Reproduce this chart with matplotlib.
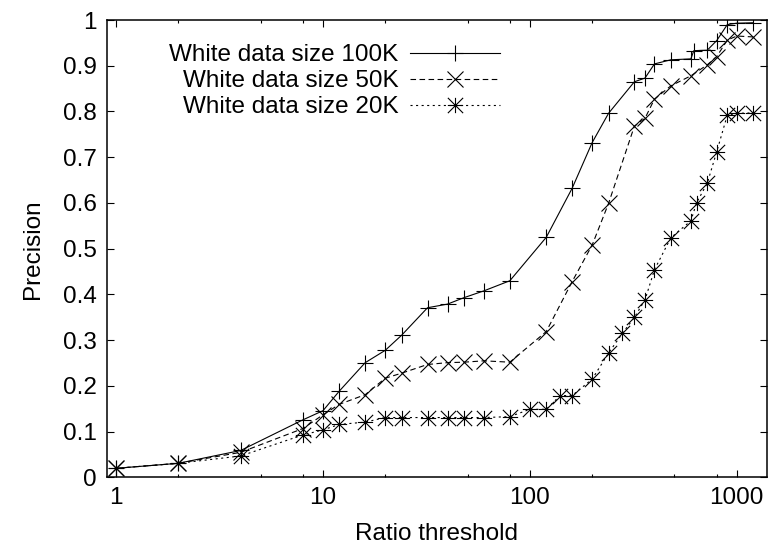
import matplotlib
matplotlib.use("Agg")
import matplotlib.pyplot as plt
from matplotlib.path import Path
from matplotlib.ticker import FixedLocator, FuncFormatter, NullFormatter

plt.rcParams['font.family'] = ['Liberation Sans', 'DejaVu Sans']
plt.rcParams['lines.scale_dashes'] = False

# Precision vs ratio threshold for three white-data sizes
x_100k = [1, 2, 4, 8, 10, 12, 16, 20, 24, 32, 40, 48, 60, 80, 120, 160, 200, 240,
          320, 360, 400, 480, 600, 620, 720, 800, 900, 1000, 1200]
p_100k = [0.020, 0.031, 0.059, 0.126, 0.146, 0.189, 0.251, 0.278, 0.311, 0.371,
          0.379, 0.393, 0.408, 0.430, 0.525, 0.632, 0.732, 0.796, 0.865, 0.873,
          0.904, 0.913, 0.915, 0.933, 0.934, 0.955, 0.990, 0.993, 0.994]

x_50k = [1, 2, 4, 8, 10, 12, 16, 20, 24, 32, 40, 48, 60, 80, 120, 160, 200, 240,
         320, 360, 400, 480, 600, 720, 800, 900, 1000, 1200]
p_50k = [0.020, 0.031, 0.055, 0.107, 0.137, 0.160, 0.181, 0.217, 0.228, 0.247,
         0.251, 0.252, 0.255, 0.252, 0.319, 0.428, 0.508, 0.599, 0.768, 0.785,
         0.827, 0.856, 0.878, 0.902, 0.920, 0.956, 0.965, 0.963]

x_20k = [1, 2, 4, 8, 10, 12, 16, 20, 24, 32, 40, 48, 60, 80, 100, 120, 140, 160,
         200, 240, 280, 320, 360, 400, 480, 600, 640, 720, 800, 900, 1000, 1200]
p_20k = [0.020, 0.031, 0.047, 0.093, 0.104, 0.116, 0.121, 0.131, 0.131, 0.131,
         0.131, 0.131, 0.131, 0.133, 0.149, 0.149, 0.179, 0.179, 0.215, 0.272,
         0.315, 0.350, 0.388, 0.454, 0.524, 0.561, 0.601, 0.643, 0.712, 0.792,
         0.796, 0.797]

labels = ['White data size 100K', 'White data size 50K', 'White data size 20K']
major_x = [1, 10, 100, 1000]
minor_x = [m * d for d in (1, 10, 100, 1000) for m in (2, 5, 8)]

# gnuplot-style "*" point: plus and cross overlaid
star = Path([(-1, 0), (1, 0), (0, -1), (0, 1), (-1, -1), (1, 1), (-1, 1), (1, -1)],
            [Path.MOVETO, Path.LINETO] * 4)

fs = 17.5

fig = plt.figure(figsize=(7.7, 5.48), dpi=100)
ax = fig.add_axes([0.1385, 0.1287, 0.8576, 0.8348])

common = dict(color='black', linewidth=0.8, markersize=11, markeredgewidth=0.8)
ax.plot(x_100k, p_100k, linestyle='-', marker='+', label=labels[0], **common)
ax.plot(x_50k, p_50k, linestyle=(0, (4, 2.5)), marker='x', label=labels[1], **common)
ax.plot(x_20k, p_20k, linestyle=(0, (1.5, 2.5)), marker=star, label=labels[2], **common)

ax.set_xscale('log')
ax.set_xlim(0.9, 1400)
ax.set_ylim(0, 1)
ax.xaxis.set_major_locator(FixedLocator(major_x))
ax.xaxis.set_minor_locator(FixedLocator(minor_x))
ax.xaxis.set_major_formatter(FuncFormatter(lambda v, _: '%g' % v))
ax.xaxis.set_minor_formatter(NullFormatter())
ax.set_yticks([i / 10 for i in range(11)])
ax.yaxis.set_major_formatter(FuncFormatter(lambda v, _: '%g' % round(v, 1)))

ax.tick_params(which='both', direction='in', top=True, right=True,
               labelsize=fs, width=0.8)
ax.tick_params(which='major', length=5, pad=7)
ax.tick_params(which='minor', length=2.5)
for s in ax.spines.values():
    s.set_linewidth(1.1)

ax.set_xlabel('Ratio threshold', fontsize=fs, labelpad=10)
ax.set_ylabel('Precision', fontsize=fs, labelpad=14)

ax.legend(loc='upper right', bbox_to_anchor=(0.596, 0.947), frameon=False,
          markerfirst=False, fontsize=fs, handlelength=3.7, handletextpad=0.5,
          labelspacing=0.165, borderpad=0, borderaxespad=0)

fig.savefig('out.png', dpi=100)
